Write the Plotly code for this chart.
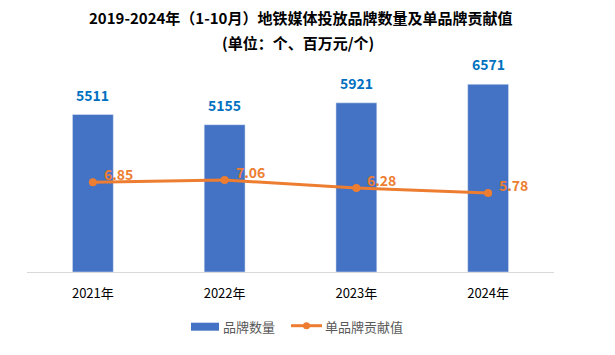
import plotly.graph_objects as go

categories = ["2021年", "2022年", "2023年", "2024年"]
brand_counts = [5511, 5155, 5921, 6571]
brand_value = [6.85, 7.06, 6.28, 5.78]
series_names = ["品牌数量", "单品牌贡献值"]

FONT = "Noto Sans CJK SC, Microsoft YaHei, sans-serif"
BLUE = "#4472C4"
ORANGE = "#ED7D31"

# page has an 8px body margin; figure sized so that page coords match the reference
W, H = 607, 347
L, R, T, B = 19, 61, 64, 83
PW, PH = W - L - R, H - T - B


def px(x):  # page x -> paper x
    return (x - 8 - L) / PW


def py(y):  # page y -> paper y
    return (H - B - (y - 8)) / PH


fig = go.Figure()
fig.add_trace(go.Bar(
    x=categories, y=brand_counts, name=series_names[0],
    marker=dict(color=BLUE), width=0.31, yaxis="y", showlegend=False,
))
fig.add_trace(go.Scatter(
    x=categories, y=brand_value, name=series_names[1],
    mode="lines+markers", yaxis="y2", showlegend=False,
    line=dict(color=ORANGE, width=3),
    marker=dict(color=ORANGE, size=8),
))

annotations = []
for c, v in zip(categories, brand_counts):
    annotations.append(dict(
        x=c, y=v, xref="x", yref="y", text=f"<b>{v}</b>", showarrow=False,
        yanchor="bottom", yshift=8, font=dict(family=FONT, size=14, color="#0070C0"),
    ))
for c, v in zip(categories, brand_value):
    annotations.append(dict(
        x=c, y=v, xref="x", yref="y2", text=f"<b>{v:.2f}</b>", showarrow=False,
        xanchor="left", yanchor="middle", xshift=9, yshift=8,
        font=dict(family=FONT, size=14, color=ORANGE),
    ))
annotations.append(dict(
    x=px(300), y=py(17), xref="paper", yref="paper", showarrow=False, yanchor="middle",
    text="<b>2019-2024年（1-10月）地铁媒体投放品牌数量及单品牌贡献值</b>",
    font=dict(family=FONT, size=15, color="#000000"),
))
annotations.append(dict(
    x=px(298), y=py(42), xref="paper", yref="paper", showarrow=False, yanchor="middle",
    text="<b>(单位：个、百万元/个)</b>",
    font=dict(family=FONT, size=15, color="#000000"),
))
# custom legend
annotations.append(dict(
    x=px(221), y=py(326.5), xref="paper", yref="paper", showarrow=False,
    xanchor="left", yanchor="middle", text=series_names[0],
    font=dict(family=FONT, size=13, color="#595959"),
))
annotations.append(dict(
    x=px(323), y=py(326.5), xref="paper", yref="paper", showarrow=False,
    xanchor="left", yanchor="middle", text=series_names[1],
    font=dict(family=FONT, size=13, color="#595959"),
))

shapes = [
    dict(type="rect", xref="paper", yref="paper", x0=px(191), x1=px(219),
         y0=py(330.7), y1=py(322.7), fillcolor=BLUE, line=dict(width=0)),
    dict(type="line", xref="paper", yref="paper", x0=px(291), x1=px(322),
         y0=py(325.7), y1=py(325.7), line=dict(color=ORANGE, width=3)),
    dict(type="circle", xref="paper", yref="paper", x0=px(303), x1=px(310),
         y0=py(329.2), y1=py(322.2), fillcolor=ORANGE, line=dict(width=0)),
]

fig.update_layout(
    width=W, height=H,
    margin=dict(l=L, r=R, t=T, b=B),
    paper_bgcolor="white", plot_bgcolor="white",
    showlegend=False,
    xaxis=dict(showline=True, linecolor="#D9D9D9", linewidth=1, ticks="",
               tickfont=dict(family=FONT, size=13, color="#000000"), showgrid=False,
               ticklabelstandoff=9),
    yaxis=dict(range=[0, 7000], visible=False, showgrid=False),
    yaxis2=dict(range=[-2, 17.7], overlaying="y", side="right", visible=False, showgrid=False),
    annotations=annotations,
    shapes=shapes,
)

fig.write_html("out.html")
